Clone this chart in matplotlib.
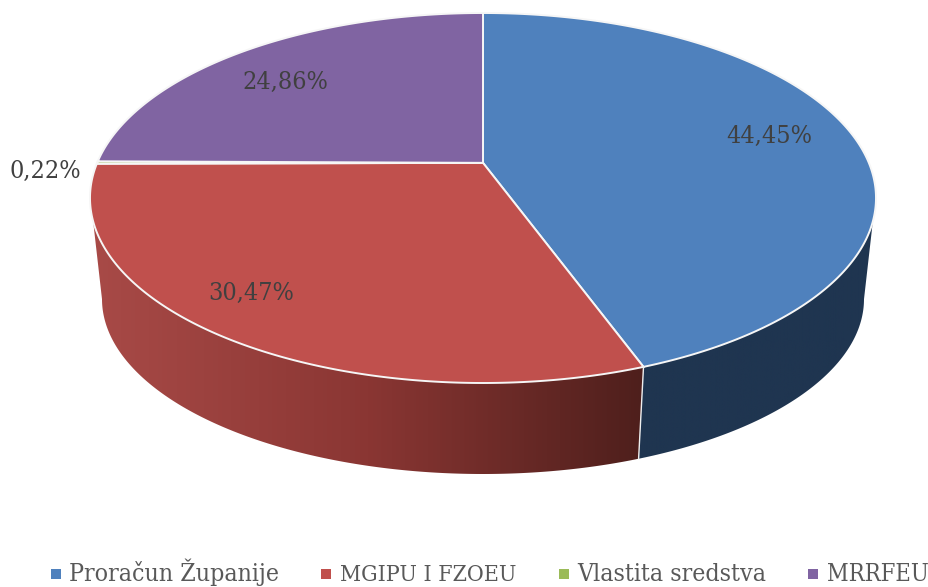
#!/usr/bin/env python3
"""3D style pie chart of funding sources, drawn with plain polygons."""

import matplotlib
matplotlib.use("Agg")
import matplotlib.pyplot as plt
import numpy as np
from matplotlib.colors import LinearSegmentedColormap
from matplotlib.patches import Polygon

labels = ["Proračun Županije", "MGIPU I FZOEU", "Vlastita sredstva", "MRRFEU"]
values = [44.45, 30.47, 0.22, 24.86]
value_texts = ["44,45%", "30,47%", "0,22%", "24,86%"]
colors = ["#4f81bd", "#c0504d", "#9bbb59", "#8064a2"]

# ellipse of the top face and of the bottom rim, in pixels
TOP = (483, 198, 393, 185)
BOTTOM = (483, 299, 381, 175)
TILT = 0.19  # where the pie centre lands inside the ellipse


def project(theta, ellipse):
    """Clockwise angle from 12 o'clock to a point on the perspective rim."""
    u, v = np.sin(theta), np.cos(theta)
    den = 1 + TILT * v
    x = u * np.sqrt(1 - TILT**2) / den
    y = (v + TILT) / den
    cx, cy, a, b = ellipse
    return cx + a * x, cy - b * y


fig = plt.figure(figsize=(9.29, 5.87), dpi=100)
ax = fig.add_axes([0, 0, 1, 1])
ax.axis("off")

edges = np.radians(np.concatenate([[0], np.cumsum(values)]) * 3.6)
apex = (TOP[0], TOP[1] - TOP[3] * TILT)

# visible part of the side wall: (top arc, bottom arc) limits in degrees
seam = edges[1]
wall_spans = [
    ((np.radians(108), seam), (np.radians(101), seam)),
    ((seam, np.radians(252)), (seam, np.radians(259))),
]
wall_maps = [
    LinearSegmentedColormap.from_list("b", ["#1f3550", "#1f3550"]),
    LinearSegmentedColormap.from_list("r", ["#a84a47", "#8a3633", "#4e1f1c"]),
]
for ((t0, t1), (b0, b1)), cmap in zip(wall_spans, wall_maps):
    tx, ty = project(np.linspace(t0, t1, 200), TOP)
    bx, by = project(np.linspace(b0, b1, 200), BOTTOM)
    pts = np.column_stack([np.r_[tx, bx[::-1]], np.r_[ty, by[::-1]]])
    poly = Polygon(pts, closed=True, facecolor="none", edgecolor="none")
    ax.add_patch(poly)
    x0, x1 = pts[:, 0].min(), pts[:, 0].max()
    y0, y1 = pts[:, 1].min(), pts[:, 1].max()
    grad = np.linspace(0, 1, 256).reshape(1, -1)
    if t0 != seam:
        grad = grad[:, ::-1]
    im = ax.imshow(grad, cmap=cmap, extent=(x0, x1, y1, y0), aspect="auto", zorder=1)
    im.set_clip_path(poly)
ax.set_xlim(0, 929)
ax.set_ylim(587, 0)

for i, color in enumerate(colors):
    th = np.linspace(edges[i], edges[i + 1], max(int(values[i] * 8), 6))
    x, y = project(th, TOP)
    pts = np.column_stack([np.r_[apex[0], x], np.r_[apex[1], y]])
    ax.add_patch(Polygon(pts, closed=True, facecolor=color, edgecolor="#f6f6f6", linewidth=1.4, zorder=2))

# seam between the two walls
sx, sy = project(seam, TOP)
bx, by = project(seam, BOTTOM)
ax.plot([sx, bx], [sy, by], color="#eeeeee", lw=1.0, zorder=3)

label_pos = [(769, 143), (251, 300), (45, 178), (285, 89)]
for text, (lx, ly) in zip(value_texts, label_pos):
    ax.text(lx, ly, text, ha="center", va="baseline", fontsize=18, family="DejaVu Serif", stretch="condensed", color="#404040", zorder=4)

legend_marks = [56, 326, 564, 813]
legend_text_x = [69, 340, 577, 827]
legend_sizes = [17.8, 16.6, 17.8, 17]
for lab, color, mx, tx, size in zip(labels, colors, legend_marks, legend_text_x, legend_sizes):
    ax.scatter([mx], [573.5], marker="s", s=42, color=color, linewidths=0, zorder=4)
    ax.text(tx, 581, lab, ha="left", va="baseline", fontsize=size, family="DejaVu Serif", stretch="condensed", color="#595959", zorder=4)

fig.savefig("out.png", dpi=100)
